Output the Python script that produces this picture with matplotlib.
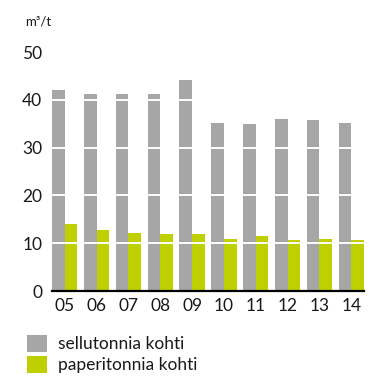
import matplotlib
matplotlib.use("Agg")
import matplotlib.pyplot as plt
import numpy as np

years = ["05", "06", "07", "08", "09", "10", "11", "12", "13", "14"]
per_pulp_tonne = [42.1, 41.2, 41.2, 41.2, 44.2, 35.2, 35.0, 36.1, 35.9, 35.2]
per_paper_tonne = [14.0, 12.7, 12.1, 11.9, 11.9, 10.8, 11.5, 10.6, 10.8, 10.6]
series_labels = ["sellutonnia kohti", "paperitonnia kohti"]
y_ticks = [0, 10, 20, 30, 40, 50]

GREY = "#a6a6a6"
GREEN = "#bfd000"

plt.rcParams["font.family"] = ["Lato", "DejaVu Sans"]

fig = plt.figure(figsize=(3.82, 3.79), dpi=100)
ax = fig.add_axes([52 / 382, 1 - 291 / 379, 312 / 382, (291 - 52.2) / 379])

x = np.arange(len(years))
w = 0.4
b1 = ax.bar(x - w / 2, per_pulp_tonne, width=w, color=GREY, zorder=1)
b2 = ax.bar(x + w / 2, per_paper_tonne, width=w, color=GREEN, zorder=1)

ax.set_xlim(-0.4, len(years) - 0.6)
ax.set_ylim(0, 50)
ax.set_yticks(y_ticks)
ax.set_xticks(x)
ax.set_xticklabels(years)

# white horizontal guides cut across the bars
for t in y_ticks[1:]:
    ax.axhline(t, color="white", lw=1.4, zorder=2)

for s in ["top", "right", "left"]:
    ax.spines[s].set_visible(False)
ax.spines["bottom"].set_color("black")
ax.spines["bottom"].set_linewidth(1.6)
ax.spines["bottom"].set_zorder(3)
ax.tick_params(axis="both", length=0, labelsize=12.5, colors="#1a1a1a")
ax.tick_params(axis="y", pad=7)
ax.tick_params(axis="x", pad=5)

fig.text(25 / 382, 1 - 22 / 379, "m³/t", fontsize=9.5, va="center", ha="left", color="#1a1a1a")

fig.legend([b1, b2], series_labels, loc="upper left",
           bbox_to_anchor=(20 / 382, 1 - 328 / 379), frameon=False,
           fontsize=12.5, handlelength=1.15, handleheight=1.15, handletextpad=0.65,
           labelspacing=0.2, borderaxespad=0, labelcolor="#1a1a1a")

fig.savefig("out.png", dpi=100)
